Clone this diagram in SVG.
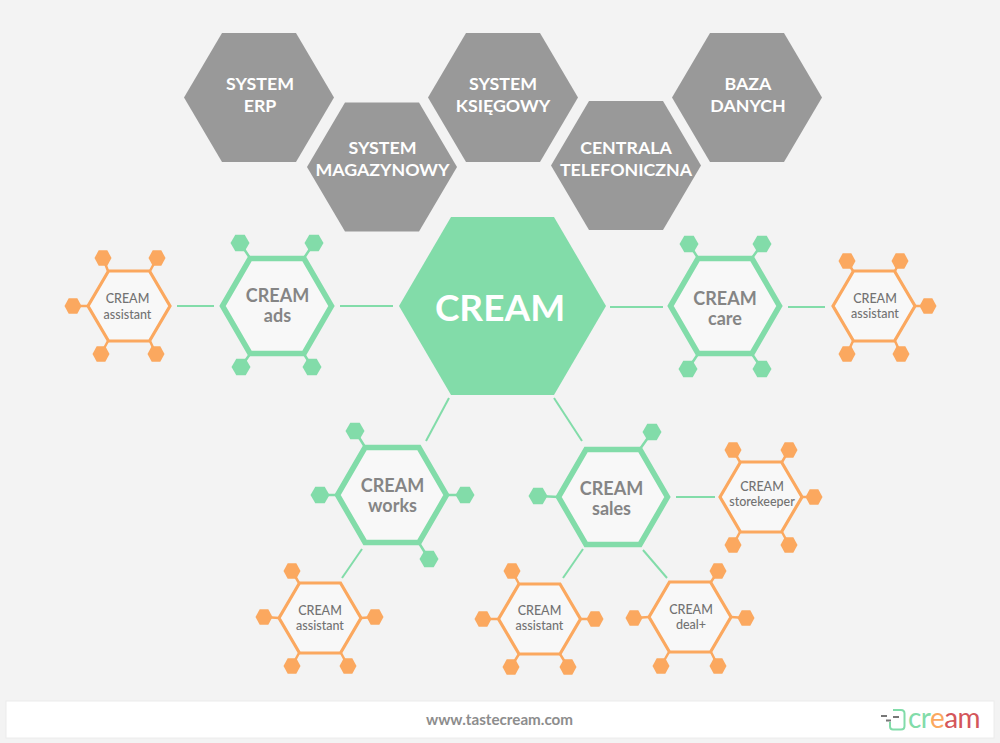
<svg xmlns="http://www.w3.org/2000/svg" width="1000" height="743" viewBox="0 0 1000 743">
<style>
text{font-family:Lato,"Open Sans","Liberation Sans",sans-serif;text-anchor:middle}
.gt{font-size:17.800px;font-weight:700;fill:#fff}
.mt{font-size:18px;font-weight:700;fill:#858585}
.ms{font-size:18px;font-weight:700;fill:#858585}
.ot{font-size:12.500px;font-weight:500;fill:#727272}
.g{fill:#82dca9}.o{fill:#fba85f}.k{fill:#999}
.gh{fill:#f8f8f8;stroke:#82dca9;stroke-width:5.500}
.oh{fill:#f8f8f8;stroke:#fba85f;stroke-width:3.200}
.gs{stroke:#82dca9;stroke-width:2.500;fill:none}
.os{stroke:#fba85f;stroke-width:2.500;fill:none}
#connectors line{stroke:#82dca9;stroke-width:2;fill:none}
</style>
<defs>
<polygon id="gray" points="-75,0 -37,-64.500 37,-64.500 75,0 37,64.500 -37,64.500"/>
<polygon id="mid" points="-54.500,0 -27,-47.500 27,-47.500 54.500,0 27,47.500 -27,47.500"/>
<polygon id="small" points="-41,0 -20.500,-35 20.500,-35 41,0 20.500,35 -20.500,35"/>
<polygon id="gsat" points="-9.500,0 -4.700,-8.200 4.700,-8.200 9.500,0 4.700,8.200 -4.700,8.200"/>
<polygon id="osat" points="-8.500,0 -4.300,-7.800 4.300,-7.800 8.500,0 4.300,7.800 -4.300,7.800"/>
</defs>
<rect width="1000" height="743" fill="#f3f3f3"/>
<g id="connectors">
<line x1="177" y1="306" x2="214" y2="306"/>
<line x1="340" y1="306" x2="393" y2="306"/>
<line x1="610" y1="307" x2="663" y2="307"/>
<line x1="788" y1="307" x2="825" y2="307"/>
<line x1="449" y1="398" x2="426" y2="441"/>
<line x1="554" y1="398" x2="582" y2="441"/>
<line x1="676" y1="497" x2="715" y2="497"/>
<line x1="583" y1="549" x2="563" y2="578"/>
<line x1="643" y1="550" x2="667" y2="578"/>
<line x1="362" y1="549" x2="342" y2="578"/>
</g>
<g id="system-erp"><use href="#gray" x="259" y="97.500" class="k"/><text class="gt" x="260" y="90">SYSTEM</text><text class="gt" x="260" y="112">ERP</text></g>
<g id="system-magazynowy"><use href="#gray" x="382" y="167" class="k"/><text class="gt" x="382.500" y="154">SYSTEM</text><text class="gt" x="382.500" y="176">MAGAZYNOWY</text></g>
<g id="system-ksiegowy"><use href="#gray" x="503" y="97.500" class="k"/><text class="gt" x="503" y="90">SYSTEM</text><text class="gt" x="503" y="112">KSIĘGOWY</text></g>
<g id="centrala"><use href="#gray" x="626" y="165.500" class="k"/><text class="gt" x="626" y="154">CENTRALA</text><text class="gt" x="626" y="176">TELEFONICZNA</text></g>
<g id="baza"><use href="#gray" x="747" y="97.500" class="k"/><text class="gt" x="748" y="90">BAZA</text><text class="gt" x="748" y="112">DANYCH</text></g>
<g id="cream"><polygon class="g" points="399,306 451,217 554,217 606,306 554,395 451,395"/><text x="500" y="321" font-size="37" font-weight="700" fill="#fff">CREAM</text></g>
<g id="cream-ads">
<path class="gs" d="M250,258L240,243M304,258L314,243M250,354L241,367M304,354L312,367"/>
<use href="#gsat" x="240" y="243" class="g"/><use href="#gsat" x="314" y="243" class="g"/><use href="#gsat" x="241" y="367" class="g"/><use href="#gsat" x="312" y="367" class="g"/>
<use href="#mid" x="277" y="306" class="gh"/>
<text class="mt" x="277.500" y="302">CREAM</text><text class="ms" x="277.500" y="322">ads</text></g>
<g id="cream-care">
<path class="gs" d="M698,258L689,244M752,258L762,244M698,354L688,369M752,354L762,369"/>
<use href="#gsat" x="689" y="244" class="g"/><use href="#gsat" x="762" y="244" class="g"/><use href="#gsat" x="688" y="369" class="g"/><use href="#gsat" x="762" y="369" class="g"/>
<use href="#mid" x="725" y="306" class="gh"/>
<text class="mt" x="725" y="305">CREAM</text><text class="ms" x="725" y="325">care</text></g>
<g id="cream-works">
<path class="gs" d="M365,447L355,431M337,495L320,495M447,495L465,495M419,543L429,559"/>
<use href="#gsat" x="355" y="431" class="g"/><use href="#gsat" x="320" y="495" class="g"/><use href="#gsat" x="465" y="495" class="g"/><use href="#gsat" x="429" y="559" class="g"/>
<use href="#mid" x="392" y="495" class="gh"/>
<text class="mt" x="392.500" y="492">CREAM</text><text class="ms" x="392.500" y="512">works</text></g>
<g id="cream-sales">
<path class="gs" d="M640,449L652,432M559,497L538,496"/>
<use href="#gsat" x="652" y="432" class="g"/><use href="#gsat" x="538" y="496" class="g"/>
<use href="#mid" x="613" y="497" class="gh"/>
<text class="mt" x="611.500" y="495">CREAM</text><text class="ms" x="611.500" y="515">sales</text></g>
<g id="assistant-left">
<path class="os" d="M108,271L103,258M150,271L157,258M88,306L73,306M108,341L101,354M150,341L156,354"/>
<use href="#osat" x="103" y="258" class="o"/><use href="#osat" x="157" y="258" class="o"/><use href="#osat" x="73" y="306" class="o"/><use href="#osat" x="101" y="354" class="o"/><use href="#osat" x="156" y="354" class="o"/>
<use href="#small" x="129" y="306" class="oh"/>
<text class="ot" x="127.500" y="303">CREAM</text><text class="ot" x="127.500" y="319">assistant</text></g>
<g id="assistant-right">
<path class="os" d="M853,271L847,261M895,271L900,261M915,306L928,306M853,341L847,354M895,341L901,354"/>
<use href="#osat" x="847" y="261" class="o"/><use href="#osat" x="900" y="261" class="o"/><use href="#osat" x="928" y="306" class="o"/><use href="#osat" x="847" y="354" class="o"/><use href="#osat" x="901" y="354" class="o"/>
<use href="#small" x="874" y="306" class="oh"/>
<text class="ot" x="875" y="303">CREAM</text><text class="ot" x="875" y="318">assistant</text></g>
<g id="storekeeper">
<path class="os" d="M740,462L733,450M782,462L789,450M802,497L814,497M740,532L733,545M782,532L789,545"/>
<use href="#osat" x="733" y="450" class="o"/><use href="#osat" x="789" y="450" class="o"/><use href="#osat" x="814" y="497" class="o"/><use href="#osat" x="733" y="545" class="o"/><use href="#osat" x="789" y="545" class="o"/>
<use href="#small" x="761" y="497" class="oh"/>
<text class="ot" x="762" y="491">CREAM</text><text class="ot" x="762" y="506">storekeeper</text></g>
<g id="assistant-sales">
<path class="os" d="M519,584L512,571M499,619L483,619M580,619L595,619M519,654L511,667M560,654L568,667"/>
<use href="#osat" x="512" y="571" class="o"/><use href="#osat" x="483" y="619" class="o"/><use href="#osat" x="595" y="619" class="o"/><use href="#osat" x="511" y="667" class="o"/><use href="#osat" x="568" y="667" class="o"/>
<use href="#small" x="539.500" y="619" class="oh"/>
<text class="ot" x="539.500" y="615">CREAM</text><text class="ot" x="539.500" y="630">assistant</text></g>
<g id="deal-plus">
<path class="os" d="M711,582L718,571M649,617L634,618M731,617L746,618M669,652L661,666M711,652L718,666"/>
<use href="#osat" x="718" y="571" class="o"/><use href="#osat" x="634" y="618" class="o"/><use href="#osat" x="746" y="618" class="o"/><use href="#osat" x="661" y="666" class="o"/><use href="#osat" x="718" y="666" class="o"/>
<use href="#small" x="690" y="617" class="oh"/>
<text class="ot" x="691" y="614">CREAM</text><text class="ot" x="691" y="629">deal+</text></g>
<g id="assistant-works">
<path class="os" d="M299,583L292,571M279,618L264,617M361,618L375,617M299,653L292,666M341,653L348,666"/>
<use href="#osat" x="292" y="571" class="o"/><use href="#osat" x="264" y="617" class="o"/><use href="#osat" x="375" y="617" class="o"/><use href="#osat" x="292" y="666" class="o"/><use href="#osat" x="348" y="666" class="o"/>
<use href="#small" x="320" y="618" class="oh"/>
<text class="ot" x="320" y="615">CREAM</text><text class="ot" x="320" y="630">assistant</text></g>
<g id="footer">
<rect x="6" y="701" width="988" height="37" fill="#fff" stroke="#ececec" stroke-width="1"/>
<text x="499.500" y="725" font-size="15.200" font-weight="700" fill="#8d8d8d">www.tastecream.com</text>
<path d="M893,710H901Q904.500,710 904.500,713.500V726Q904.500,729.500 901,729.500H893Q890,729.500 890,726.500V722" fill="none" stroke="#82dca9" stroke-width="2"/>
<path d="M881,716H887M886,720.500H891M893,717H899" stroke="#777" stroke-width="2" fill="none"/>
<text x="944" y="728" font-size="28" font-weight="400" letter-spacing="-0.500"><tspan fill="#82dca9">cr</tspan><tspan fill="#fba85f">e</tspan><tspan fill="#d4565a">am</tspan></text>
</g>
</svg>
